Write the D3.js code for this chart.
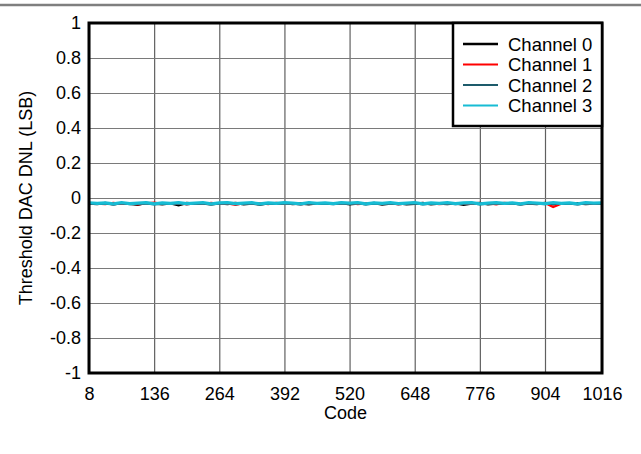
<!DOCTYPE html>
<html>
<head>
<meta charset="utf-8">
<script src="https://cdn.jsdelivr.net/npm/d3@7"></script>
<style>
  body { margin: 0; background: #fff; }
  text { font-family: "Liberation Sans", Arial, sans-serif; }
</style>
</head>
<body>
<div id="chart"></div>
<script>
// codes sampled every 16 LSB from 8 to 1016
var codes = d3.range(8, 1017, 16);

var xTicks = [8, 136, 264, 392, 520, 648, 776, 904, 1016];
var yTicks = [-1, -0.8, -0.6, -0.4, -0.2, 0, 0.2, 0.4, 0.6, 0.8, 1];
var yTickLabels = ["-1", "-0.8", "-0.6", "-0.4", "-0.2", "0", "0.2", "0.4", "0.6", "0.8", "1"];

var channelNames = ["Channel 0", "Channel 1", "Channel 2", "Channel 3"];
var channelColors = ["#000000", "#ff0000", "#1d5b6b", "#17bcd4"];

var ch0 = [-0.031,-0.034,-0.029,-0.036,-0.030,-0.033,-0.038,-0.028,-0.032,-0.035,-0.030,-0.041,-0.029,-0.033,-0.031,-0.036,
           -0.030,-0.034,-0.028,-0.035,-0.032,-0.037,-0.030,-0.033,-0.029,-0.034,-0.031,-0.036,-0.030,-0.033,-0.032,-0.028,
           -0.035,-0.031,-0.034,-0.029,-0.037,-0.032,-0.030,-0.035,-0.033,-0.029,-0.036,-0.031,-0.034,-0.030,-0.038,-0.032,
           -0.029,-0.035,-0.031,-0.033,-0.030,-0.036,-0.032,-0.034,-0.029,-0.035,-0.031,-0.033,-0.030,-0.034,-0.032,-0.031];
var ch1 = [-0.029,-0.032,-0.035,-0.028,-0.033,-0.030,-0.036,-0.031,-0.027,-0.034,-0.032,-0.029,-0.037,-0.030,-0.033,-0.028,
           -0.034,-0.031,-0.039,-0.029,-0.032,-0.030,-0.035,-0.028,-0.033,-0.031,-0.036,-0.029,-0.032,-0.034,-0.030,-0.033,
           -0.028,-0.035,-0.031,-0.030,-0.034,-0.029,-0.036,-0.031,-0.028,-0.033,-0.030,-0.035,-0.032,-0.029,-0.034,-0.031,
           -0.033,-0.030,-0.036,-0.028,-0.032,-0.034,-0.030,-0.031,-0.029,-0.052,-0.033,-0.030,-0.035,-0.031,-0.034,-0.029];
var ch2 = [-0.030,-0.033,-0.031,-0.035,-0.029,-0.034,-0.032,-0.030,-0.036,-0.031,-0.033,-0.029,-0.034,-0.032,-0.030,-0.035,
           -0.031,-0.029,-0.034,-0.032,-0.030,-0.036,-0.031,-0.033,-0.030,-0.032,-0.035,-0.029,-0.033,-0.031,-0.034,-0.030,
           -0.032,-0.029,-0.035,-0.031,-0.033,-0.030,-0.034,-0.032,-0.029,-0.036,-0.031,-0.033,-0.030,-0.034,-0.031,-0.029,
           -0.035,-0.032,-0.030,-0.033,-0.031,-0.035,-0.029,-0.032,-0.034,-0.030,-0.033,-0.031,-0.035,-0.030,-0.032,-0.031];
var ch3 = [-0.027,-0.031,-0.028,-0.033,-0.026,-0.032,-0.029,-0.027,-0.034,-0.028,-0.031,-0.026,-0.032,-0.029,-0.027,-0.033,
           -0.028,-0.026,-0.032,-0.029,-0.027,-0.034,-0.028,-0.031,-0.027,-0.029,-0.033,-0.026,-0.031,-0.028,-0.032,-0.027,
           -0.029,-0.026,-0.033,-0.028,-0.031,-0.027,-0.032,-0.029,-0.026,-0.034,-0.028,-0.031,-0.027,-0.032,-0.028,-0.026,
           -0.033,-0.029,-0.027,-0.031,-0.028,-0.033,-0.026,-0.029,-0.032,-0.027,-0.031,-0.028,-0.033,-0.027,-0.029,-0.028];

var channelValues = [ch0, ch1, ch2, ch3];
var channelWidths = [2.5, 2.2, 2.5, 3.2];

var margin = { top: 23, right: 39, bottom: 81, left: 89 },
    width = 641 - margin.left - margin.right,
    height = 454 - margin.top - margin.bottom;

var svg = d3.select("#chart").append("svg")
    .attr("width", 641)
    .attr("height", 454);

// header rule
svg.append("line")
    .attr("x1", 0).attr("x2", 641)
    .attr("y1", 5).attr("y2", 5)
    .style("stroke", "#7f7f7f")
    .style("stroke-width", 2.5);

var g = svg.append("g")
    .attr("transform", "translate(" + margin.left + "," + margin.top + ")");

var xScale = d3.scaleLinear().domain([8, 1016]).range([0, width]);
var yScale = d3.scaleLinear().domain([-1, 1]).range([height, 0]);

// grid
g.append("g")
    .attr("class", "grid")
    .call(d3.axisBottom(xScale).tickValues(xTicks).tickSize(height).tickFormat(""))
    .call(function (s) { s.select(".domain").remove(); })
    .selectAll("line")
    .style("stroke", "#606060")
    .style("stroke-width", 1.2);

g.append("g")
    .attr("class", "grid")
    .call(d3.axisLeft(yScale).tickValues(yTicks).tickSize(-width).tickFormat(""))
    .call(function (s) { s.select(".domain").remove(); })
    .selectAll("line")
    .style("stroke", "#7a7a7a")
    .style("stroke-width", 1.2);

// series
var line = d3.line()
    .x(function (d, i) { return xScale(codes[i]); })
    .y(function (d) { return yScale(d); });

channelValues.forEach(function (vals, k) {
    g.append("path")
        .datum(vals)
        .attr("d", line)
        .style("fill", "none")
        .style("stroke", channelColors[k])
        .style("stroke-width", channelWidths[k]);
});

// frame
g.append("rect")
    .attr("width", width).attr("height", height)
    .style("fill", "none")
    .style("stroke", "#000")
    .style("stroke-width", 3);

// axes labels
var xAxis = g.append("g")
    .attr("transform", "translate(0," + height + ")")
    .call(d3.axisBottom(xScale).tickValues(xTicks).tickSize(0).tickPadding(14).tickFormat(d3.format("d")));
xAxis.select(".domain").remove();
xAxis.selectAll("text").style("font-size", "18px").style("fill", "#000");

var yAxis = g.append("g")
    .call(d3.axisLeft(yScale).tickValues(yTicks).tickSize(0).tickPadding(8)
        .tickFormat(function (d, i) { return yTickLabels[i]; }));
yAxis.select(".domain").remove();
yAxis.selectAll("text").style("font-size", "18px").style("fill", "#000");

svg.append("text")
    .attr("x", margin.left + width / 2)
    .attr("y", 419)
    .attr("text-anchor", "middle")
    .style("font-size", "18px")
    .text("Code");

svg.append("text")
    .attr("transform", "translate(32," + (margin.top + height / 2) + ") rotate(-90)")
    .attr("text-anchor", "middle")
    .style("font-size", "18px")
    .text("Threshold DAC DNL (LSB)");

// legend
var legend = g.append("g")
    .attr("transform", "translate(" + (width - 149) + ",0)");

legend.append("rect")
    .attr("width", 149).attr("height", 103)
    .style("fill", "#fff")
    .style("stroke", "#000")
    .style("stroke-width", 2.5);

channelNames.forEach(function (name, k) {
    var y = 21 + k * 20.5;
    legend.append("line")
        .attr("x1", 10).attr("x2", 45)
        .attr("y1", y).attr("y2", y)
        .style("stroke", channelColors[k])
        .style("stroke-width", k === 0 ? 2.5 : 2.2);
    legend.append("text")
        .attr("x", 55).attr("y", y + 6.5)
        .style("font-size", "18.5px")
        .text(name);
});
</script>
</body>
</html>
